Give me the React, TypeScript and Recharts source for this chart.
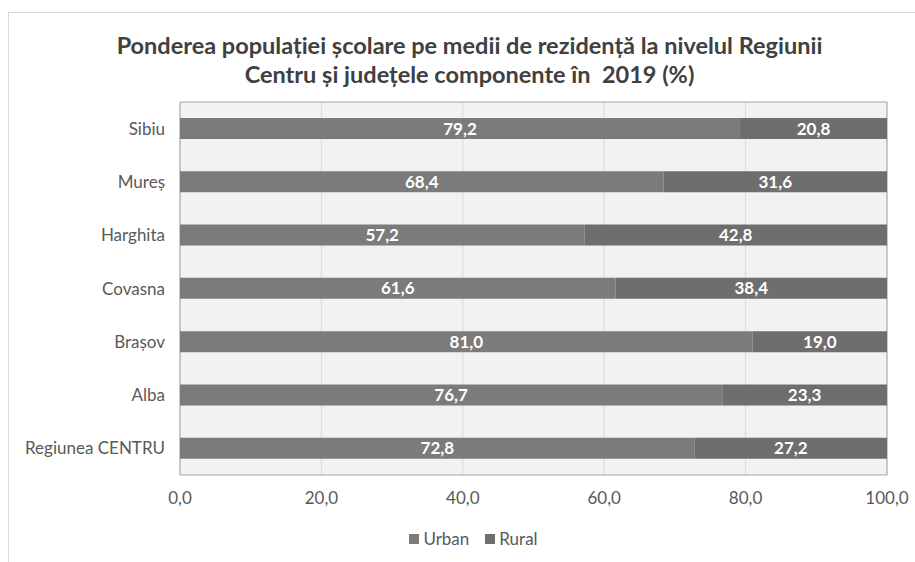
import React from "react"
import { BarChart, Bar, XAxis, YAxis, CartesianGrid, Legend, LabelList, ReferenceArea } from "recharts"

document.body.style.margin = "0"

const regions = ["Sibiu", "Mureș", "Harghita", "Covasna", "Brașov", "Alba", "Regiunea CENTRU"]
const urban = [79.2, 68.4, 57.2, 61.6, 81.0, 76.7, 72.8]
const rural = [20.8, 31.6, 42.8, 38.4, 19.0, 23.3, 27.2]
const xTicks = [0, 20, 40, 60, 80, 100]

const data = regions.map((name, i) => ({ name, urban: urban[i], rural: rural[i] }))

const FONT = "Lato, 'Open Sans', sans-serif"
const fmt = (v: number) => v.toFixed(1).replace(".", ",")

function LegendBox() {
  const items = [
    { label: "Urban", color: "#7b7b7b" },
    { label: "Rural", color: "#6e6e6e" },
  ]
  return (
    <div style={{ display: "flex", justifyContent: "center", gap: 16, paddingLeft: 32, fontFamily: FONT, fontSize: 17, color: "#595959" }}>
      {items.map((it) => (
        <span key={it.label} style={{ display: "flex", alignItems: "center", gap: 4 }}>
          <span style={{ width: 10, height: 10, background: it.color, display: "inline-block" }} />
          {it.label}
        </span>
      ))}
    </div>
  )
}

export default function App() {
  return (
    <div style={{ position: "relative", width: 915, height: 562, background: "#fff", overflow: "hidden" }}>
      <div
        style={{
          position: "absolute",
          left: 8,
          top: 12,
          width: 920,
          height: 560,
          border: "1px solid #d9d9d9",
          boxSizing: "border-box",
        }}
      />
      <div
        style={{
          position: "absolute",
          left: 12,
          top: 31,
          width: 915,
          textAlign: "center",
          fontFamily: FONT,
          fontWeight: 700,
          fontSize: 23.5,
          lineHeight: "29px",
          color: "#404040",
        }}
      >
        Ponderea populației școlare pe medii de rezidență la nivelul Regiunii
        <br />
        Centru și județele componente în&nbsp; 2019 (%)
      </div>
      <div style={{ position: "absolute", left: 0, top: 0 }}>
        <BarChart
          width={915}
          height={562}
          data={data}
          layout="vertical"
          margin={{ top: 102, right: 28, bottom: 36, left: 4 }}
          barSize={21}
        >
          <CartesianGrid horizontal={false} stroke="#d9d9d9" fill="#f2f2f2" />
          <XAxis
            type="number"
            domain={[0, 100]}
            ticks={xTicks}
            tickFormatter={fmt}
            axisLine={false}
            tickLine={false}
            tickSize={0}
            tickMargin={17}
            tick={{ fill: "#595959", fontSize: 17, fontFamily: FONT }}
          />
          <YAxis
            type="category"
            dataKey="name"
            width={176}
            axisLine={false}
            tickLine={false}
            tickSize={0}
            tickMargin={15}
            tick={{ fill: "#595959", fontSize: 17, fontFamily: FONT }}
          />
          <ReferenceArea x1={0} x2={100} fill="none" stroke="#a6a6a6" />
          <Bar dataKey="urban" name="Urban" stackId="a" fill="#7b7b7b" isAnimationActive={false}>
            <LabelList dataKey="urban" position="center" formatter={(v: any) => fmt(Number(v))} fill="#fff" fontWeight={700} fontSize={17} fontFamily={FONT} />
          </Bar>
          <Bar dataKey="rural" name="Rural" stackId="a" fill="#6e6e6e" isAnimationActive={false}>
            <LabelList dataKey="rural" position="center" formatter={(v: any) => fmt(Number(v))} fill="#fff" fontWeight={700} fontSize={17} fontFamily={FONT} />
          </Bar>
          <Legend content={() => <LegendBox />} wrapperStyle={{ top: 528, left: 0, width: 915 }} />
        </BarChart>
      </div>
    </div>
  )
}
